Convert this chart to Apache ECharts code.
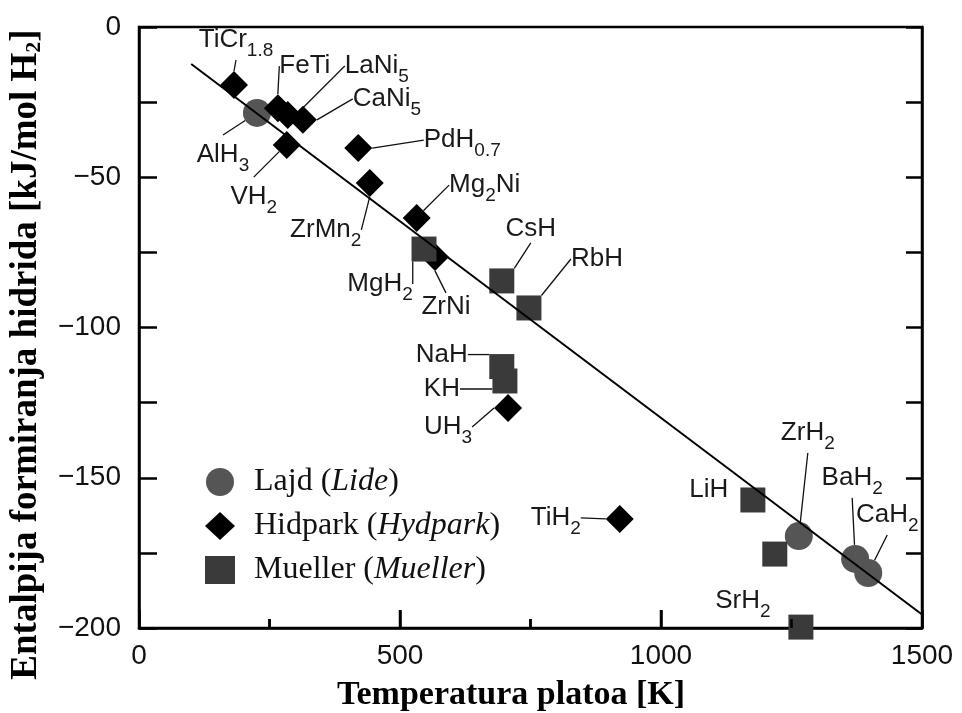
<!DOCTYPE html>
<html><head><meta charset="utf-8">
<script src="https://cdn.jsdelivr.net/npm/echarts@6/dist/echarts.min.js"></script>
<style>html,body{margin:0;padding:0;background:#fff}#c{width:962px;height:713px}</style>
</head><body><div id="c"></div>
<script>
// ---- data ----
const lideNames = ['AlH3', 'ZrH2', 'BaH2', 'CaH2'];
const lideT = [226, 1264, 1372, 1397];
const lideH = [-28.6, -169.4, -177.0, -181.7];

const hydNames = ['TiCr1.8', 'FeTi', 'LaNi5', 'CaNi5', 'VH2', 'PdH0.7', 'ZrMn2', 'Mg2Ni', 'ZrNi', 'UH3', 'TiH2'];
const hydT = [182, 266, 285, 314, 283, 420, 442, 532, 567, 707, 921];
const hydH = [-19.3, -27.0, -29.3, -30.9, -39.3, -40.3, -51.9, -63.6, -76.5, -126.8, -163.7];

const muelNames = ['MgH2', 'CsH', 'RbH', 'NaH', 'KH', 'LiH', '', 'SrH2'];
const muelT = [546, 695, 747, 695, 701, 1176, 1218, 1268];
const muelH = [-73.9, -84.5, -93.5, -113.0, -117.8, -157.4, -175.4, -199.7];

const fitT = [100, 1500];
const fitH = [-12.3, -195.5];

const yTickLabels = [0, -50, -100, -150, -200];
const xTickLabels = [0, 500, 1000, 1500];
const xTickValues = [250, 500, 750, 1000, 1250];

const legendNames = ['Lajd', 'Hidpark', 'Mueller'];
const legendItalic = ['Lide', 'Hydpark', 'Mueller'];

// ---- label layout (offsets in px, leader flags) ----
const lideOff = [[-34, 42], [9, -103], [-3, -81], [19, -58]];
const lideLead = [true, true, true, true];
const hydOff = [[2, -45], [27, -42], [89, -49], [84, -21], [-33, 52], [104, -8], [-44, 47], [68, -33], [11, 50], [-60, 19], [-64, -1]];
const hydLead = [true, true, true, true, true, true, true, true, true, true, true];
const muelOff = [[-44, 35], [29, -52], [68, -49], [-60, -12], [-63, 8], [-44, -10], [0, 0], [-58, -26]];
const muelLead = [true, true, true, true, true, false, false, false];

function fmtName(n) { return n.replace(/(\d+(?:\.\d+)?)/g, '{s|$1}'); }
function mkData(names, T, H, lead) {
  return names.map((n, i) => ({ name: n, value: [T[i], H[i]], labelLine: { show: lead[i] } }));
}
const labelBase = {
  show: true, position: 'inside', formatter: p => fmtName(p.name),
  fontFamily: 'Liberation Sans', fontSize: 26, color: '#1a1a1a', lineHeight: 28,
  rich: { s: { fontFamily: 'Liberation Sans', fontSize: 19, lineHeight: 17, padding: [21, 0, 0, 0], color: '#1a1a1a' } }
};
const labelLineBase = { show: true, lineStyle: { color: '#111', width: 1.3 } };

const chart = echarts.init(document.getElementById('c'));
chart.setOption({
  animation: false,
  grid: { left: 139, top: 27, right: 40, bottom: 85, containLabel: false, outerBoundsMode: 'none',
    show: true, borderColor: '#000', borderWidth: 2.5, backgroundColor: 'transparent' },
  legend: {
    data: legendNames, orient: 'vertical', left: 200, top: 461,
    itemWidth: 30, itemHeight: 28, itemGap: 12,
    formatter: n => n + ' ({i|' + legendItalic[legendNames.indexOf(n)] + '})',
    textStyle: {
      fontFamily: 'Liberation Serif', fontSize: 32, color: '#111', padding: [0, 0, 0, 14],
      rich: { i: { fontFamily: 'Liberation Serif', fontSize: 32, fontStyle: 'italic', color: '#111' } }
    },
    selectedMode: false
  },
  xAxis: {
    type: 'value', min: 0, max: 1500, interval: 500, position: 'bottom',
    axisLine: { show: true, onZero: false, lineStyle: { color: '#000', width: 2.5 } },
    axisTick: { show: true, inside: true, length: 18, lineStyle: { color: '#000', width: 2.5 } },
    minorTick: { show: true, splitNumber: 2, length: 9, lineStyle: { color: '#000', width: 2.5 } },
    splitLine: { show: false },
    axisLabel: { margin: 14, fontFamily: 'Liberation Sans', fontSize: 28, color: '#111',
      formatter: v => xTickLabels.indexOf(v) >= 0 ? String(v) : '' },
    name: 'Temperatura platoa [K]', nameLocation: 'middle', nameGap: 50,
    nameTextStyle: { fontFamily: 'Liberation Serif', fontWeight: 'bold', fontSize: 34, color: '#000', padding: [0, 39, 0, 0] }
  },
  yAxis: [{
    type: 'value', min: -200, max: 0, interval: 25, position: 'left',
    axisLine: { show: true, onZero: false, lineStyle: { color: '#000', width: 2.5 } },
    axisTick: { show: true, inside: true, length: 18, lineStyle: { color: '#000', width: 2.5 } },
    splitLine: { show: false },
    axisLabel: { margin: 18, fontFamily: 'Liberation Sans', fontSize: 28, color: '#111',
      formatter: v => yTickLabels.indexOf(v) >= 0 ? String(v).replace('-', '\u2212') : '' },
    name: 'Entalpija formiranja hidrida [kJ/mol H{s|2}]', nameLocation: 'middle', nameGap: 94, nameRotate: 90,
    nameTextStyle: { fontFamily: 'Liberation Serif', fontWeight: 'bold', fontSize: 37, color: '#000', padding: [0, 54, 0, 0],
      rich: { s: { fontFamily: 'Liberation Serif', fontWeight: 'bold', fontSize: 22, padding: [16, 0, 0, 0], lineHeight: 22 } } }
  }, {
    type: 'value', min: -200, max: 0, interval: 25, position: 'right',
    axisLine: { show: true, onZero: false, lineStyle: { color: '#000', width: 2.5 } },
    axisTick: { show: true, inside: true, length: 16, lineStyle: { color: '#000', width: 2.5 } },
    axisLabel: { show: false }, splitLine: { show: false }
  }],
  series: [{
    name: 'Lajd', type: 'scatter', symbol: 'circle', symbolSize: 28, z: 2,
    itemStyle: { color: '#555', opacity: 1 },
    data: mkData(lideNames, lideT, lideH, lideLead),
    label: labelBase, labelLine: labelLineBase,
    labelLayout: p => ({ dx: lideOff[p.dataIndex][0], dy: lideOff[p.dataIndex][1] })
  }, {
    name: 'Hidpark', type: 'scatter', symbol: 'diamond', symbolSize: 28, z: 3,
    itemStyle: { color: '#000', opacity: 1 },
    data: mkData(hydNames, hydT, hydH, hydLead),
    label: labelBase, labelLine: labelLineBase,
    labelLayout: p => ({ dx: hydOff[p.dataIndex][0], dy: hydOff[p.dataIndex][1] })
  }, {
    name: 'Mueller', type: 'scatter', symbol: 'rect', symbolSize: 25, z: 4,
    itemStyle: { color: '#3a3a3a', opacity: 1 },
    data: mkData(muelNames, muelT, muelH, muelLead),
    label: labelBase, labelLine: labelLineBase,
    labelLayout: p => ({ dx: muelOff[p.dataIndex][0], dy: muelOff[p.dataIndex][1] })
  }, {
    name: 'fit', type: 'line', z: 5, silent: true, showSymbol: false, symbol: 'none',
    data: fitT.map((t, i) => [t, fitH[i]]),
    lineStyle: { color: '#000', width: 2 }
  }, {
    // bottom-frame tick marks, placed through the temperature axis scale
    name: 'xticks', type: 'custom', coordinateSystem: 'cartesian2d', z: 10, silent: true, clip: false,
    data: xTickValues.map(v => [v, -200]),
    renderItem: function (params, api) {
      const v = api.value(0);
      const p = api.coord([v, api.value(1)]);
      const len = (v % 500 === 0) ? 18 : 9;
      return { type: 'line', shape: { x1: p[0], y1: p[1], x2: p[0], y2: p[1] - len },
        style: { stroke: '#000', lineWidth: 2.5 } };
    }
  }]
});
</script></body></html>
